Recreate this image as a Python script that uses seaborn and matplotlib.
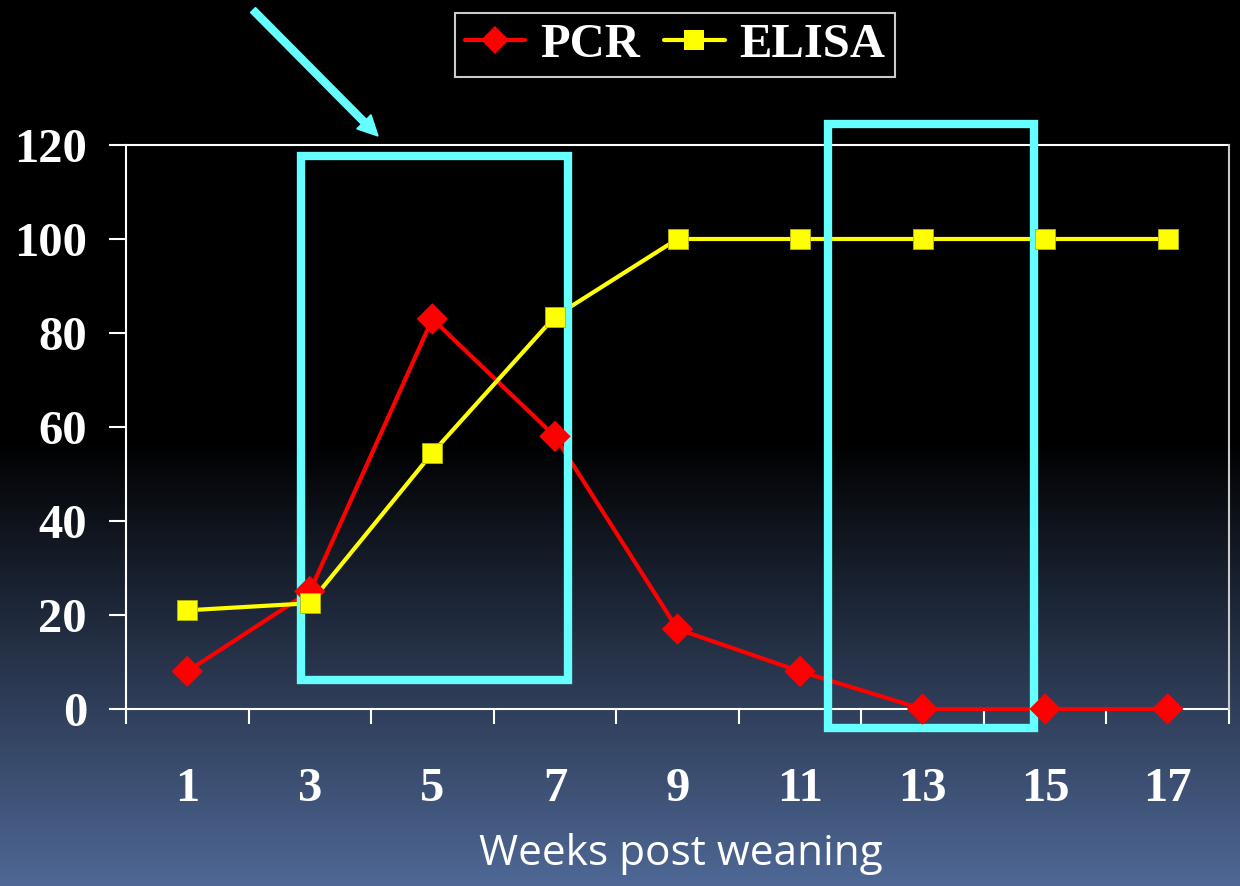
import numpy as np
import pandas as pd
import matplotlib
matplotlib.use("Agg")
import matplotlib.pyplot as plt
import seaborn as sns
from matplotlib.lines import Line2D
from matplotlib.patches import Rectangle, FancyArrow

# ---- data ----
weeks = ["1", "3", "5", "7", "9", "11", "13", "15", "17"]
pcr = [8, 25, 83, 58, 17, 8, 0, 0, 0]
elisa = [21, 22.5, 54.5, 83.5, 100, 100, 100, 100, 100]
series_names = ["PCR", "ELISA"]
y_ticks = [0, 20, 40, 60, 80, 100, 120]
x_label = "Weeks post weaning"

# highlight boxes (category-position x range, value y range)
box1_x = [0.93, 3.11]
box1_y = [6.2, 117.7]
box2_x = [5.23, 6.91]
box2_y = [-4.0, 124.5]

pos = list(range(len(weeks)))
df = pd.DataFrame({
    "pos": pos * 2,
    "value": pcr + elisa,
    "test": [series_names[0]] * len(pos) + [series_names[1]] * len(pos),
})

sns.set_theme(style="ticks")
W, H, DPI = 12.4, 8.86, 100
fig = plt.figure(figsize=(W, H), dpi=DPI)
fig.patch.set_facecolor("black")

# background gradient
bg = fig.add_axes([0, 0, 1, 1], zorder=-10)
rows = 886
yy = np.arange(rows)
start = 440
frac = np.clip((yy - start) / (rows - start), 0, 1)
bottom = np.array([79, 104, 150]) / 255.0
grad = frac[:, None] * bottom[None, :]
img = np.repeat(grad[:, None, :], 4, axis=1)
bg.imshow(img, aspect="auto", extent=[0, 1, 0, 1], origin="upper")
bg.set_axis_off()

ax = fig.add_axes([126 / 1240, 1 - 709 / 886, 1103 / 1240, 564 / 886])
ax.set_facecolor("none")

colors = {"PCR": "#ff0000", "ELISA": "#ffff00"}
markers = {"PCR": "D", "ELISA": "s"}
msize = {"PCR": 16, "ELISA": 14}
edge = {"PCR": "none", "ELISA": "#b5b500"}

for name in series_names:
    sub = df[df.test == name]
    sns.lineplot(data=sub, x="pos", y="value", color=colors[name], linewidth=3,
                 ax=ax, legend=False, zorder=3, clip_on=False)
for name in series_names:
    sub = df[df.test == name]
    sns.scatterplot(data=sub, x="pos", y="value", color=colors[name], marker=markers[name],
                    s=msize[name] ** 2, edgecolor=edge[name], linewidth=0.6,
                    ax=ax, legend=False, zorder=5, clip_on=False)

ax.set_xlim(-0.5, len(weeks) - 0.5)
ax.set_ylim(0, 120)

tick_font = dict(family="Liberation Serif", weight="bold", size=35)
ax.set_yticks(y_ticks)
ax.set_yticklabels([str(t) for t in y_ticks], color="white", **tick_font)
ax.set_xticks(pos)
ax.set_xticklabels(weeks, color="white", **tick_font)
ax.set_xticks([p - 0.5 for p in pos] + [len(weeks) - 0.5], minor=True)
ax.tick_params(axis="y", direction="out", length=12, width=1.5, color="white", pad=16)
ax.tick_params(axis="x", which="major", length=0, pad=42)
ax.tick_params(axis="x", which="minor", direction="out", length=11, width=1.5, color="white")
ax.set_xlabel("")
ax.set_ylabel("")

for side in ["left", "bottom", "top"]:
    ax.spines[side].set_color("white")
    ax.spines[side].set_linewidth(1.5)
    ax.spines[side].set_zorder(2)
ax.spines["right"].set_color("#cccccc")
ax.spines["right"].set_linewidth(1.5)
ax.grid(False)

cyan = "#66ffff"
for bx, by in [(box1_x, box1_y), (box2_x, box2_y)]:
    r = Rectangle((bx[0], by[0]), bx[1] - bx[0], by[1] - by[0], fill=False,
                  edgecolor=cyan, linewidth=6, clip_on=False, zorder=4, joinstyle="miter")
    ax.add_patch(r)

# arrow (figure coords)
x0, y0 = 253 / 1240, 1 - 10 / 886
x1, y1 = 378 / 1240, 1 - 136 / 886
fig.patches.append(FancyArrow(
    x0 * W * DPI, y0 * H * DPI, (x1 - x0) * W * DPI, (y1 - y0) * H * DPI,
    width=7, head_width=20, head_length=20, length_includes_head=True,
    color=cyan, transform=None, figure=fig))

# x label
fig.text(681 / 1240, 1 - 865 / 886, x_label, color="white", family="Open Sans",
         size=30.5, ha="center", va="baseline")

handles = [
    Line2D([], [], color=colors["PCR"], marker="D", markersize=14, linewidth=3, markeredgewidth=0),
    Line2D([], [], color=colors["ELISA"], marker="s", markersize=14, linewidth=3, markeredgewidth=0),
]
leg = fig.legend(handles, series_names, loc="center", bbox_to_anchor=(675 / 1240, 1 - 45 / 886),
                 ncol=2, frameon=True, fancybox=False, handlelength=1.25, handletextpad=0.3,
                 columnspacing=0.5, borderpad=0.2,
                 prop=dict(family="Liberation Serif", weight="bold", size=35))
leg.get_frame().set_facecolor("black")
leg.get_frame().set_edgecolor("white")
leg.get_frame().set_linewidth(1.5)
for t in leg.get_texts():
    t.set_color("white")

fig.savefig("out.png", dpi=DPI, facecolor=fig.get_facecolor())
